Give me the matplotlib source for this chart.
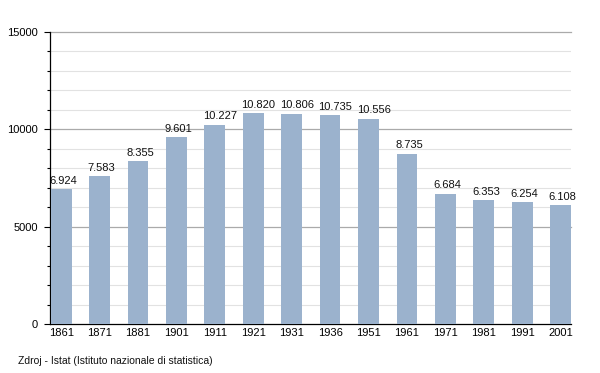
import matplotlib
matplotlib.use("Agg")
import matplotlib.pyplot as plt
from matplotlib.ticker import MultipleLocator

years = ["1861", "1871", "1881", "1901", "1911", "1921", "1931", "1936",
         "1951", "1961", "1971", "1981", "1991", "2001"]
population = [6924, 7583, 8355, 9601, 10227, 10820, 10806, 10735,
              10556, 8735, 6684, 6353, 6254, 6108]
source_text = "Zdroj - Istat (Istituto nazionale di statistica)"

plt.rcParams['font.family'] = ['Liberation Sans', 'DejaVu Sans']

W, H = 600, 373
fig = plt.figure(figsize=(W / 100, H / 100), dpi=100)
ax = fig.add_axes([50 / W, (H - 324) / H, (571 - 50) / W, (324 - 32) / H])

x = list(range(len(years)))
width = 0.54
bars = ax.bar(x, population, width=width, color="#9BB2CD", zorder=3)

for xi, v in zip(x, population):
    lbl = f"{v:,}".replace(",", ".")
    ax.annotate(lbl, (xi - width / 2, v), xytext=(-1, 2.5), textcoords="offset points",
                ha="left", va="bottom", fontsize=8, color="#111111", zorder=4)

ax.set_ylim(0, 15000)
ax.set_xlim(-0.29, 13.27)
ax.yaxis.set_major_locator(MultipleLocator(5000))
ax.yaxis.set_minor_locator(MultipleLocator(1000))
for yv in range(1000, 15001, 1000):
    if yv % 5000 == 0:
        ax.axhline(yv, color="#aaaaaa", linewidth=0.9, zorder=1, clip_on=False)
    else:
        ax.axhline(yv, color="#e2e2e2", linewidth=0.8, zorder=1)
ax.tick_params(axis="y", which="major", length=4.3, width=0.8, labelsize=8, pad=4.3)
ax.tick_params(axis="y", which="minor", length=2.2, width=0.8)
ax.set_xticks(x)
ax.set_xticklabels(years)
ax.tick_params(axis="x", length=0, labelsize=8, pad=3)

for s in ["top", "right"]:
    ax.spines[s].set_visible(False)
ax.spines["left"].set_linewidth(0.9)
ax.spines["bottom"].set_linewidth(0.9)

fig.text(18 / W, 1 - 361 / H, source_text, fontsize=7.5, ha="left", va="center", color="#111111")

fig.savefig("out.png", dpi=100)
